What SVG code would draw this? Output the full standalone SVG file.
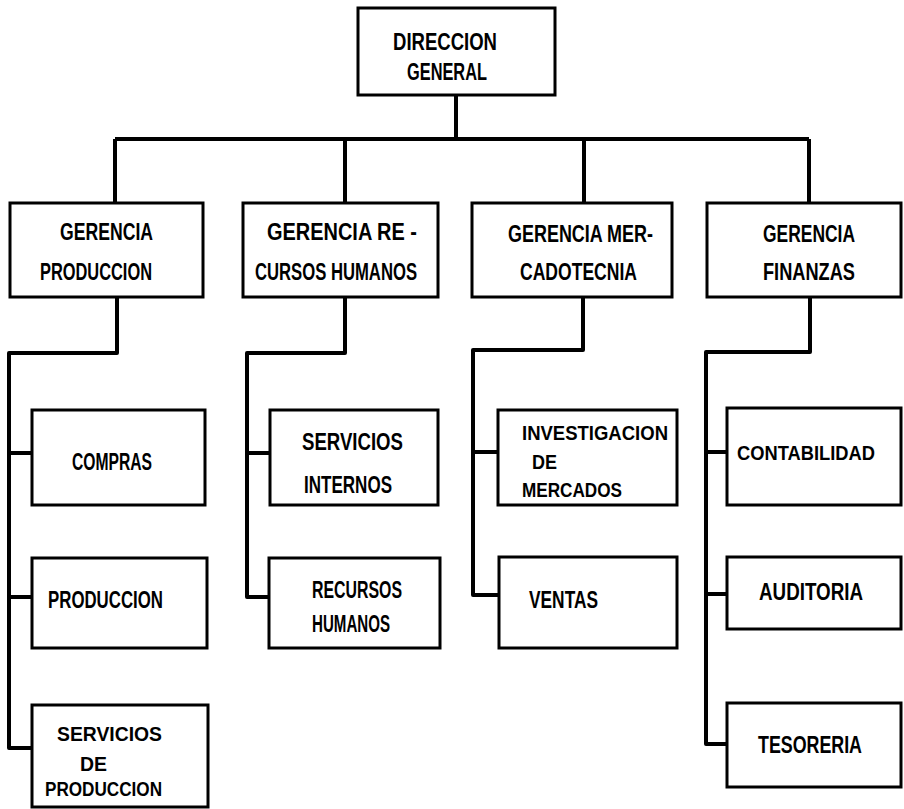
<svg xmlns="http://www.w3.org/2000/svg" width="904" height="809" viewBox="0 0 904 809">
<style>
.box{fill:#fff;stroke:#000;stroke-width:3}
.c{fill:none;stroke:#000;stroke-width:4;stroke-linejoin:round}
text{font-family:"Liberation Sans","DejaVu Sans",sans-serif;font-weight:bold;font-size:23px;fill:#000}
.s{font-size:20px}
</style>
<rect width="904" height="809" fill="#fff"/>
<g id="connectors">
<path class="c" d="M456,95 V139 M115,139 H809 M115,139 V203 M345,139 V203 M584,139 V203 M809,139 V203"/>
<path class="c" d="M117,297 V353 H9 V748 H32 M9,453 H32 M9,597 H32"/>
<path class="c" d="M345,297 V353 H247 V597 H269 M247,453 H270"/>
<path class="c" d="M583,297 V350 H473 V595 H499 M473,452 H498"/>
<path class="c" d="M810,297 V352 H706 V744 H727 M706,452 H727 M706,594 H727"/>
</g>
<g id="direccion"><rect class="box" x="358" y="8" width="197" height="87"/>
<text x="393" y="50" textLength="104" lengthAdjust="spacingAndGlyphs">DIRECCION</text>
<text x="407" y="80" textLength="80" lengthAdjust="spacingAndGlyphs">GENERAL</text></g>
<g id="g_produccion"><rect class="box" x="10" y="203" width="193" height="94"/>
<text x="60" y="240" textLength="93" lengthAdjust="spacingAndGlyphs">GERENCIA</text>
<text x="40" y="280" textLength="112" lengthAdjust="spacingAndGlyphs">PRODUCCION</text></g>
<g id="g_rrhh"><rect class="box" x="243" y="203" width="195" height="94"/>
<text x="267" y="240" textLength="150" lengthAdjust="spacingAndGlyphs">GERENCIA RE -</text>
<text x="255" y="280" textLength="162" lengthAdjust="spacingAndGlyphs">CURSOS HUMANOS</text></g>
<g id="g_mercadotecnia"><rect class="box" x="472" y="203" width="200" height="94"/>
<text x="508" y="242" textLength="145" lengthAdjust="spacingAndGlyphs">GERENCIA MER-</text>
<text x="520" y="280" textLength="117" lengthAdjust="spacingAndGlyphs">CADOTECNIA</text></g>
<g id="g_finanzas"><rect class="box" x="707" y="203" width="194" height="94"/>
<text x="763" y="242" textLength="92" lengthAdjust="spacingAndGlyphs">GERENCIA</text>
<text x="763" y="280" textLength="92" lengthAdjust="spacingAndGlyphs">FINANZAS</text></g>
<g id="compras"><rect class="box" x="32" y="410" width="173" height="95"/>
<text x="72" y="470" textLength="80" lengthAdjust="spacingAndGlyphs">COMPRAS</text></g>
<g id="produccion"><rect class="box" x="32" y="558" width="175" height="90"/>
<text x="48" y="608" textLength="115" lengthAdjust="spacingAndGlyphs">PRODUCCION</text></g>
<g id="servicios_produccion"><rect class="box" x="32" y="705" width="176" height="102"/>
<text class="s" x="57" y="741" textLength="105" lengthAdjust="spacingAndGlyphs">SERVICIOS</text>
<text class="s" x="80" y="771" textLength="27" lengthAdjust="spacingAndGlyphs">DE</text>
<text class="s" x="45" y="796" textLength="117" lengthAdjust="spacingAndGlyphs">PRODUCCION</text></g>
<g id="servicios_internos"><rect class="box" x="270" y="410" width="168" height="95"/>
<text x="302" y="450" textLength="101" lengthAdjust="spacingAndGlyphs">SERVICIOS</text>
<text x="304" y="493" textLength="88" lengthAdjust="spacingAndGlyphs">INTERNOS</text></g>
<g id="recursos_humanos"><rect class="box" x="269" y="558" width="171" height="90"/>
<text x="312" y="598" textLength="90" lengthAdjust="spacingAndGlyphs">RECURSOS</text>
<text x="312" y="632" textLength="78" lengthAdjust="spacingAndGlyphs">HUMANOS</text></g>
<g id="investigacion"><rect class="box" x="498" y="410" width="179" height="95"/>
<text class="s" x="522" y="440" textLength="146" lengthAdjust="spacingAndGlyphs">INVESTIGACION</text>
<text class="s" x="532" y="469" textLength="25" lengthAdjust="spacingAndGlyphs">DE</text>
<text class="s" x="522" y="497" textLength="100" lengthAdjust="spacingAndGlyphs">MERCADOS</text></g>
<g id="ventas"><rect class="box" x="499" y="557" width="178" height="91"/>
<text x="529" y="608" textLength="69" lengthAdjust="spacingAndGlyphs">VENTAS</text></g>
<g id="contabilidad"><rect class="box" x="727" y="408" width="174" height="97"/>
<text class="s" x="737" y="460" textLength="138" lengthAdjust="spacingAndGlyphs">CONTABILIDAD</text></g>
<g id="auditoria"><rect class="box" x="727" y="557" width="174" height="72"/>
<text x="759" y="600" textLength="104" lengthAdjust="spacingAndGlyphs">AUDITORIA</text></g>
<g id="tesoreria"><rect class="box" x="727" y="703" width="174" height="84"/>
<text x="758" y="753" textLength="104" lengthAdjust="spacingAndGlyphs">TESORERIA</text></g>
</svg>
